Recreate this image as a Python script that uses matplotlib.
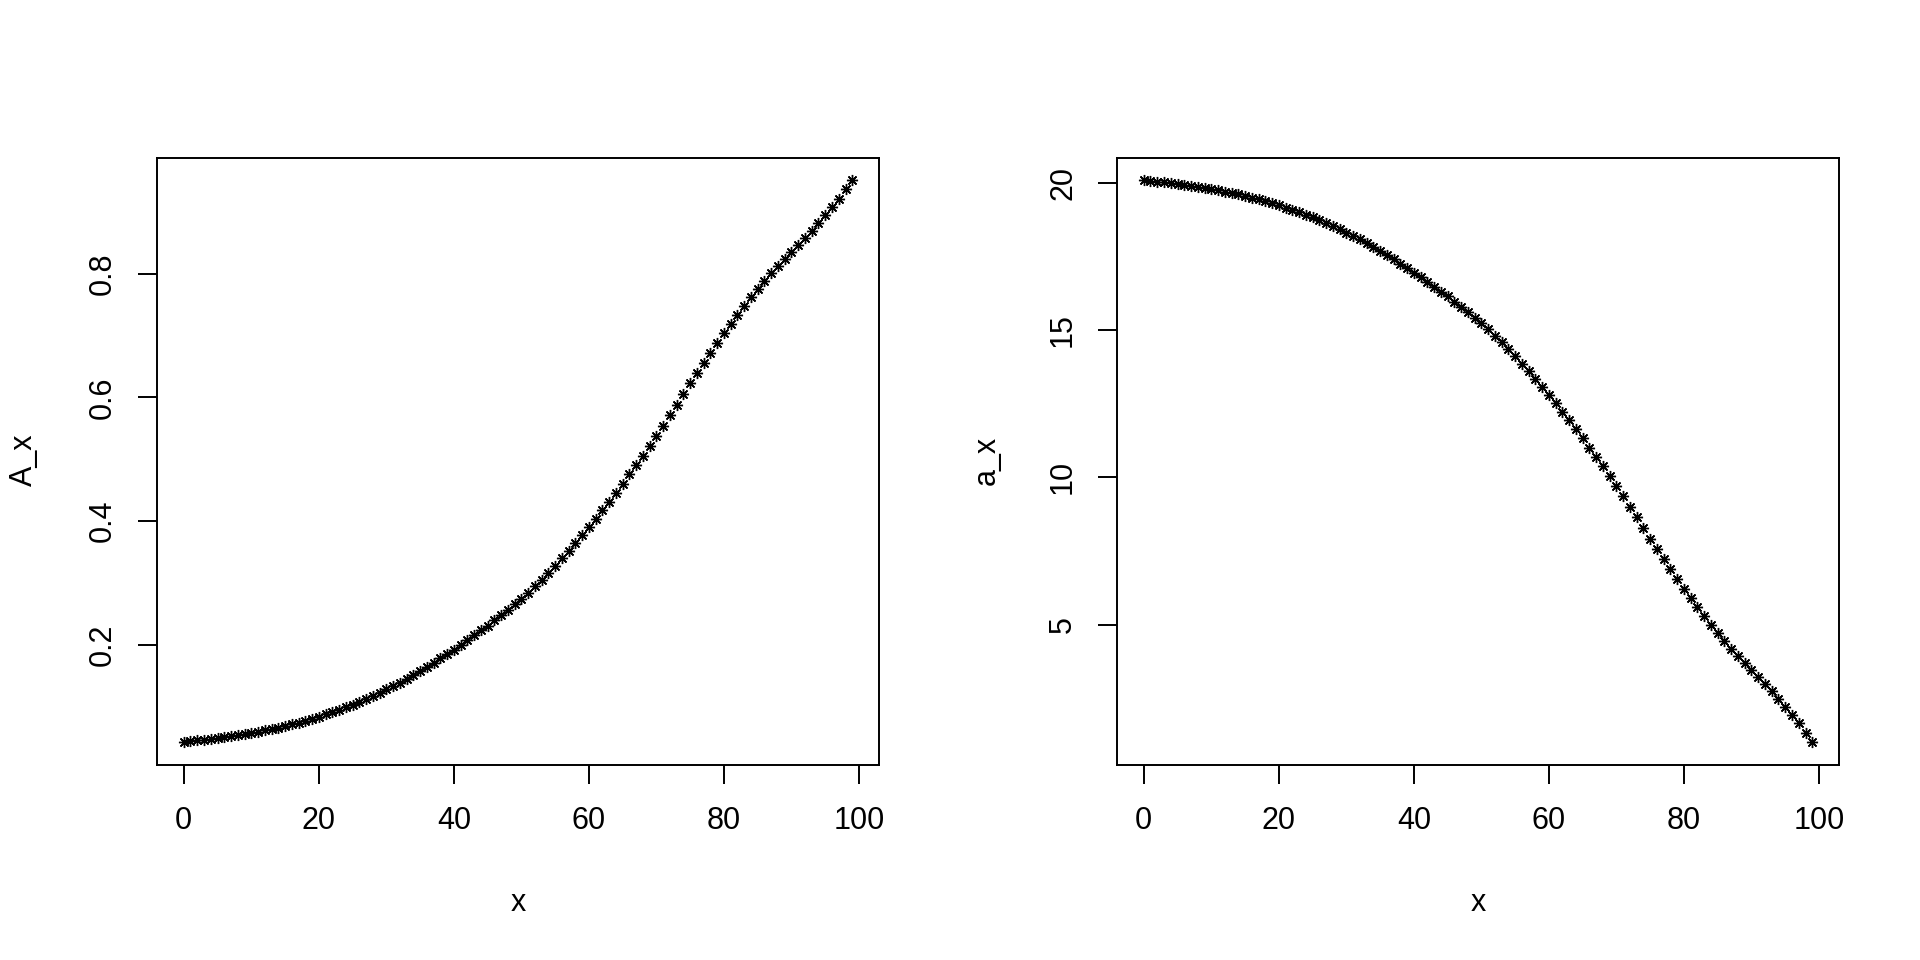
import matplotlib
matplotlib.use("Agg")
import matplotlib.pyplot as plt

plt.rcParams['font.family'] = ['Liberation Sans', 'DejaVu Sans']

ages = list(range(0, 100))

# whole life insurance A_x
A_x = [
    0.0432, 0.0444, 0.0457, 0.0470, 0.0484, 0.0498, 0.0513, 0.0528, 0.0544, 0.0561,
    0.0579, 0.0599, 0.0620, 0.0642, 0.0666, 0.0691, 0.0718, 0.0746, 0.0776, 0.0808,
    0.0842, 0.0877, 0.0914, 0.0953, 0.0994, 0.1037, 0.1082, 0.1129, 0.1178, 0.1229,
    0.1282, 0.1336, 0.1393, 0.1453, 0.1515, 0.1579, 0.1645, 0.1713, 0.1783, 0.1854,
    0.1927, 0.2002, 0.2079, 0.2157, 0.2237, 0.2315, 0.2396, 0.2479, 0.2566, 0.2656,
    0.2750, 0.2848, 0.2951, 0.3058, 0.3168, 0.3282, 0.3400, 0.3521, 0.3645, 0.3771,
    0.3900, 0.4035, 0.4175, 0.4318, 0.4462, 0.4608, 0.4756, 0.4906, 0.5060, 0.5218,
    0.5380, 0.5545, 0.5712, 0.5882, 0.6054, 0.6226, 0.6397, 0.6560, 0.6722, 0.6881,
    0.7036, 0.7188, 0.7336, 0.7480, 0.7619, 0.7753, 0.7882, 0.8006, 0.8125, 0.8240,
    0.8353, 0.8466, 0.8580, 0.8697, 0.8818, 0.8944, 0.9076, 0.9215, 0.9362, 0.9515,
]

# annuity-due a_x
a_x = [
    20.093, 20.068, 20.040, 20.013, 19.984, 19.954, 19.923, 19.891, 19.858, 19.822,
    19.784, 19.742, 19.698, 19.652, 19.601, 19.549, 19.492, 19.433, 19.370, 19.303,
    19.232, 19.158, 19.081, 18.999, 18.913, 18.822, 18.728, 18.629, 18.526, 18.419,
    18.308, 18.194, 18.075, 17.949, 17.819, 17.684, 17.546, 17.403, 17.256, 17.107,
    16.953, 16.796, 16.634, 16.470, 16.302, 16.139, 15.968, 15.794, 15.611, 15.422,
    15.225, 15.019, 14.803, 14.578, 14.347, 14.108, 13.860, 13.606, 13.346, 13.081,
    12.810, 12.527, 12.233, 11.932, 11.630, 11.323, 11.012, 10.697, 10.374, 10.042,
    9.702, 9.356, 9.005, 8.648, 8.287, 7.925, 7.566, 7.224, 6.884, 6.550,
    6.224, 5.905, 5.594, 5.292, 5.000, 4.719, 4.448, 4.187, 3.938, 3.696,
    3.459, 3.221, 2.982, 2.736, 2.482, 2.218, 1.940, 1.649, 1.340, 1.019,
]

x_ticks = [0, 20, 40, 60, 80, 100]
A_ticks = [0.2, 0.4, 0.6, 0.8]
a_ticks = [5, 10, 15, 20]

W, H = 1920, 960
fig = plt.figure(figsize=(19.2, 9.6), dpi=100)

panels = [
    (157, A_x, A_ticks, ['0.2', '0.4', '0.6', '0.8'], 'A_x', 24),
    (1117, a_x, a_ticks, ['5', '10', '15', '20'], 'a_x', 987),
]

for left, vals, yt, ytl, ylab, ylab_x in panels:
    ax = fig.add_axes([left / W, (H - 764.5) / H, 722 / W, 607 / H])
    ax.plot(ages, vals, linestyle='none', marker=(8, 2, 0), markersize=8,
            markeredgewidth=1.0, color='black')
    ax.margins(x=0.04, y=0.04)
    ax.set_xticks(x_ticks)
    ax.set_yticks(yt)
    ax.set_yticklabels(ytl, rotation=90, va='center')
    ax.tick_params(axis='both', direction='out', length=14, width=1.4,
                   labelsize=22, color='black')
    ax.tick_params(axis='x', pad=16)
    ax.tick_params(axis='y', pad=14)
    for s in ax.spines.values():
        s.set_linewidth(1.4)
    fig.text((left + 361) / W, 1 - 911 / H, 'x', ha='center', va='baseline', fontsize=22)
    fig.text(ylab_x / W, 1 - 460 / H, ylab, ha='center', va='center', rotation=90,
             fontsize=22)

fig.savefig('out.png', dpi=100, facecolor='white')
